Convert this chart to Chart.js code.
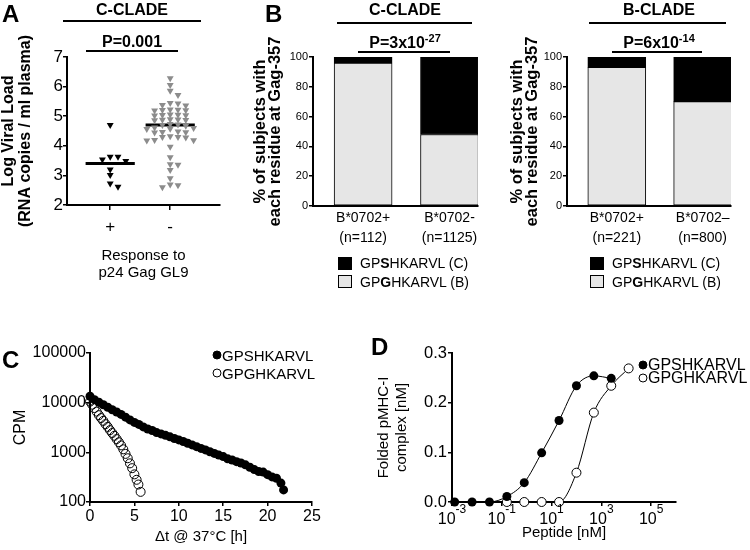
<!DOCTYPE html>
<html>
<head>
<meta charset="utf-8">
<title>Gag-357 GPSHKARVL / GPGHKARVL</title>
<script src="https://cdn.jsdelivr.net/npm/chart.js@4.4.1/dist/chart.umd.min.js"></script>
<style>
  body { margin: 0; background: #fff; font-family: "Liberation Sans", Arial, sans-serif; color: #000; }
  #fig { position: relative; width: 750px; height: 550px; overflow: hidden; }
  #fig canvas { position: absolute; }
  .letter { position: absolute; font-size: 24px; font-weight: bold; line-height: 24px; }
  .head { position: absolute; font-size: 16px; font-weight: bold; line-height: 16px; white-space: nowrap; transform: translate(-50%, -50%); }
  .head sup { font-size: 11px; line-height: 0; vertical-align: 6px; }
  .rule { position: absolute; height: 2px; background: #000; }
  .key { position: absolute; white-space: nowrap; line-height: 1; transform: translateY(-50%); }
  .swatch { position: absolute; width: 14px; height: 13px; border: 1px solid #000; box-sizing: border-box; }
  .dot { position: absolute; width: 9px; height: 9px; border-radius: 50%; border: 1px solid #000; box-sizing: border-box; transform: translate(-50%, -50%); }
</style>
</head>
<body>
<div id="fig">
  <canvas id="chartA" width="240" height="300" style="left:0;top:0"></canvas>
  <canvas id="chartBc" width="250" height="300" style="left:240px;top:0"></canvas>
  <canvas id="chartBb" width="250" height="300" style="left:490px;top:0"></canvas>
  <canvas id="chartC" width="370" height="240" style="left:0;top:310px"></canvas>
  <canvas id="chartD" width="380" height="240" style="left:370px;top:310px"></canvas>

  <!-- panel A headers -->
  <div class="letter" style="left:2px;top:2px">A</div>
  <div class="head" style="left:132px;top:10px">C-CLADE</div>
  <div class="rule" style="left:63px;top:20px;width:138px"></div>
  <div class="head" style="left:132px;top:42px">P=0.001</div>
  <div class="rule" style="left:86px;top:50px;width:92px"></div>

  <!-- panel B headers -->
  <div class="letter" style="left:265px;top:2px">B</div>
  <div class="head" style="left:405px;top:10px">C-CLADE</div>
  <div class="rule" style="left:337px;top:22px;width:135px"></div>
  <div class="head" style="left:405px;top:43px">P=3x10<sup>-27</sup></div>
  <div class="rule" style="left:358px;top:51px;width:92px"></div>
  <div class="head" style="left:659px;top:10px">B-CLADE</div>
  <div class="rule" style="left:589px;top:22px;width:137px"></div>
  <div class="head" style="left:659px;top:43px">P=6x10<sup>-14</sup></div>
  <div class="rule" style="left:612px;top:51px;width:90px"></div>

  <!-- panel B keys -->
  <div class="swatch" style="left:338px;top:257px;background:#000"></div>
  <div class="key" style="left:360px;top:263px;font-size:14px">GP<b>S</b>HKARVL (C)</div>
  <div class="swatch" style="left:338px;top:275px;background:#e6e6e6"></div>
  <div class="key" style="left:360px;top:282px;font-size:14px">GP<b>G</b>HKARVL (B)</div>
  <div class="swatch" style="left:590px;top:257px;background:#000"></div>
  <div class="key" style="left:612px;top:263px;font-size:14px">GP<b>S</b>HKARVL (C)</div>
  <div class="swatch" style="left:590px;top:275px;background:#e6e6e6"></div>
  <div class="key" style="left:612px;top:282px;font-size:14px">GP<b>G</b>HKARVL (B)</div>

  <!-- panel C / D -->
  <div class="letter" style="left:2px;top:348px">C</div>
  <div class="dot" style="left:217px;top:355px;background:#000"></div>
  <div class="key" style="left:222px;top:355px;font-size:15px">GPSHKARVL</div>
  <div class="dot" style="left:217px;top:373px;background:#fff"></div>
  <div class="key" style="left:222px;top:373px;font-size:15px">GPGHKARVL</div>

  <div class="letter" style="left:371px;top:335px">D</div>
  <div class="dot" style="left:643px;top:365px;background:#000"></div>
  <div class="key" style="left:648px;top:365px;font-size:16px">GPSHKARVL</div>
  <div class="dot" style="left:643px;top:378px;background:#fff"></div>
  <div class="key" style="left:648px;top:378px;font-size:16px">GPGHKARVL</div>
</div>

<script>
// ---- A: viral load by GL9 response ----
const responseCats = ['+', '-'];
const viralLoadPlus = [4.70, 3.63, 3.63, 3.54, 3.49, 3.20, 3.01, 2.73, 2.62];
const viralLoadMinus = [6.28, 6.05, 5.86, 5.72, 5.45, 5.43, 5.38, 5.36, 5.22, 5.20, 5.21, 5.19, 5.23,
  5.05, 5.03, 5.06, 5.04, 5.02, 4.90, 4.88, 4.87, 4.89, 4.86, 4.74, 4.72, 4.70, 4.68, 4.60, 4.58,
  4.62, 4.57, 4.47, 4.46, 4.48, 4.45, 4.30, 4.32, 4.28, 4.30, 4.19, 4.20, 4.18, 3.97, 3.61, 3.38,
  3.36, 3.18, 2.90, 2.69, 2.67, 2.60];
const viralLoadMean = [3.40, 4.70];
const viralLoadTicks = [2, 3, 4, 5, 6, 7];

// ---- B: residue at Gag-357 ----
const cCladeCats = [['B*0702+', '(n=112)'], ['B*0702-', '(n=1125)']];
const cCladeGly = [96, 48];   // GPGHKARVL (B)
const cCladeSer = [4, 52];    // GPSHKARVL (C)
const bCladeCats = [['B*0702+', '(n=221)'], ['B*0702\u2013', '(n=800)']];
const bCladeGly = [93, 70];
const bCladeSer = [7, 30];
const pctTicks = [0, 20, 40, 60, 80, 100];

// ---- C: dissociation at 37C ----
const timeSer = [0, 0.5, 1, 1.5, 2, 2.5, 3, 3.5, 4, 4.5, 5, 5.5, 6, 6.5, 7, 7.5, 8, 8.5, 9, 9.5, 10,
  10.5, 11, 11.5, 12, 12.5, 13, 13.5, 14, 14.5, 15, 15.5, 16, 16.5, 17, 17.5, 18, 18.5, 19, 19.5,
  20, 20.5, 21, 21.5, 21.8];
const cpmSer = [13500, 11500, 10200, 9100, 8100, 7200, 6500, 5800, 5100, 4500, 4000, 3650, 3250,
  2950, 2750, 2500, 2350, 2200, 2050, 1900, 1780, 1650, 1520, 1410, 1300, 1200, 1120, 1030, 950,
  880, 820, 740, 700, 650, 610, 560, 500, 450, 410, 400, 355, 320, 300, 240, 175];
const timeGly = [0, 0.25, 0.5, 0.75, 1, 1.25, 1.5, 1.75, 2, 2.25, 2.5, 2.75, 3, 3.25, 3.5, 3.75, 4,
  4.25, 4.5, 4.75, 5, 5.25, 5.45, 5.7];
const cpmGly = [10500, 9100, 7800, 6600, 5600, 4900, 4300, 3700, 3250, 2800, 2450, 2150, 1850, 1600,
  1380, 1150, 930, 760, 600, 480, 360, 280, 225, 160];
const cpmTicks = [100, 1000, 10000, 100000];
const hourTicks = [0, 5, 10, 15, 20, 25];

// ---- D: refolding titration ----
const peptideSer = [0.00128, 0.0064, 0.032, 0.16, 0.8, 4, 20, 100, 500, 2500];
const foldedSer = [0, 0, 0, 0.011, 0.039, 0.099, 0.164, 0.234, 0.254, 0.249];
const peptideGly = [0.16, 0.8, 4, 20, 100, 500, 2500, 12500];
const foldedGly = [0, 0, 0, 0, 0.059, 0.18, 0.234, 0.269];
const foldedTicks = [0, 0.1, 0.2, 0.3];
const peptideTickExp = [-3, -1, 1, 3, 5];

Chart.defaults.font.family = '"Liberation Sans", Arial, sans-serif';
Chart.defaults.color = '#000';

const inkGrid = { drawOnChartArea: false, drawTicks: true, tickLength: 4, color: '#000', lineWidth: 1.5 };
const inkBorder = { display: true, color: '#000', width: 2 };
const quiet = { legend: { display: false }, tooltip: { enabled: false } };

// spread points of one column sideways so they do not sit on top of each other
function swarm(values, center) {
  const stepX = 0.13, pxPerUnit = 29.6;
  const order = values.map((v, i) => i).sort((a, b) => values[b] - values[a]);
  const placed = [];
  const out = [];
  order.forEach(i => {
    const v = values[i];
    for (let k = 0; k < 30; k++) {
      const col = k === 0 ? 0 : (k % 2 ? 1 : -1) * Math.ceil(k / 2);
      const clash = placed.some(p => p.col === col && Math.abs(p.v - v) * pxPerUnit < 4.5);
      if (!clash) {
        placed.push({ col, v });
        out.push({ x: center + col * stepX, y: v });
        break;
      }
    }
  });
  return out;
}

new Chart(document.getElementById('chartA'), {
  type: 'scatter',
  data: {
    datasets: [
      { data: swarm(viralLoadPlus, 1), pointStyle: 'triangle', rotation: 180, pointRadius: 4,
        backgroundColor: '#000', borderWidth: 0, clip: false },
      { data: swarm(viralLoadMinus, 2), pointStyle: 'triangle', rotation: 180, pointRadius: 4,
        backgroundColor: '#8c8c8c', borderWidth: 0, clip: false },
      ...viralLoadMean.map((m, i) => ({
        type: 'line', data: [{ x: i + 1 - 0.41, y: m }, { x: i + 1 + 0.41, y: m }],
        borderColor: '#000', borderWidth: 3, pointRadius: 0, clip: false
      }))
    ]
  },
  options: {
    responsive: false, animation: false, events: [],
    layout: { padding: { top: 57, right: 20, left: 0, bottom: 0 }, autoPadding: false },
    plugins: quiet,
    scales: {
      x: {
        type: 'linear', min: 0.28, max: 2.83, offset: false,
        afterBuildTicks: s => { s.ticks = responseCats.map((c, i) => ({ value: i + 1 })); },
        afterFit: s => { s.height = 95; },
        ticks: { callback: v => responseCats[v - 1], font: { size: 17 }, padding: 7, maxRotation: 0 },
        grid: { ...inkGrid, tickLength: 5 }, border: inkBorder,
        title: { display: true, text: ['Response to', 'p24 Gag GL9'], font: { size: 15, lineHeight: 1.13 },
          padding: { top: 0, bottom: 19 } }
      },
      y: {
        min: 2, max: 7,
        afterBuildTicks: s => { s.ticks = viralLoadTicks.map(v => ({ value: v })); },
        afterFit: s => { s.width = 67; },
        ticks: { font: { size: 17 }, padding: 0 },
        grid: inkGrid, border: inkBorder,
        title: { display: true, text: ['Log Viral Load', '(RNA copies / ml plasma)'],
          font: { size: 16, weight: 'bold', lineHeight: 1.06 }, padding: { top: 0.5, bottom: 0 } }
      }
    }
  }
});

function cladeChart(id, cats, gly, ser, yWidth, titlePad, rightPad) {
  return new Chart(document.getElementById(id), {
    type: 'bar',
    data: {
      datasets: [
        { label: 'GPGHKARVL (B)', data: gly.map((v, i) => ({ x: i + 1, y: v })), backgroundColor: '#e6e6e6',
          borderColor: '#000', borderWidth: 1, borderSkipped: false, barThickness: 58 },
        { label: 'GPSHKARVL (C)', data: ser.map((v, i) => ({ x: i + 1, y: v })), backgroundColor: '#000',
          borderColor: '#000', borderWidth: 1, borderSkipped: false, barThickness: 58 }
      ]
    },
    options: {
      responsive: false, animation: false, events: [],
      layout: { padding: { top: 57, right: rightPad, left: 0, bottom: 0 }, autoPadding: false },
      plugins: quiet,
      scales: {
        x: {
          type: 'linear', min: 0.42, max: 2.33, stacked: true, offset: false,
          afterBuildTicks: s => { s.ticks = cats.map((c, i) => ({ value: i + 1 })); },
          afterFit: s => { s.height = 94; },
          ticks: { callback: v => cats[v - 1], font: { size: 14, lineHeight: 1.45 }, padding: 2, maxRotation: 0 },
          grid: { ...inkGrid, drawTicks: false, tickLength: 4 }, border: inkBorder
        },
        y: {
          stacked: true, min: 0, max: 100,
          afterBuildTicks: s => { s.ticks = pctTicks.map(v => ({ value: v })); },
          afterFit: s => { s.width = yWidth; },
          ticks: { font: { size: 11 }, padding: 1 },
          grid: inkGrid, border: inkBorder,
          title: { display: true, text: ['% of subjects with', 'each residue at Gag-357'],
            font: { size: 16.5, weight: 'bold', lineHeight: 0.9 }, padding: { top: titlePad, bottom: 0 } }
        }
      }
    }
  });
}

cladeChart('chartBc', cCladeCats, cCladeGly, cCladeSer, 73, 13.5, 12);
cladeChart('chartBb', bCladeCats, bCladeGly, bCladeSer, 77, 20.5, 9);

new Chart(document.getElementById('chartC'), {
  type: 'scatter',
  data: {
    datasets: [
      { label: 'GPSHKARVL', data: timeSer.map((t, i) => ({ x: t, y: cpmSer[i] })), pointRadius: 4.5,
        backgroundColor: '#000', borderColor: '#000', borderWidth: 0, clip: false },
      { label: 'GPGHKARVL', data: timeGly.map((t, i) => ({ x: t, y: cpmGly[i] })), pointRadius: 4.5,
        backgroundColor: 'rgba(255,255,255,0)', borderColor: '#000', borderWidth: 1, clip: false }
    ]
  },
  options: {
    responsive: false, animation: false, events: [],
    layout: { padding: { top: 43, right: 58, left: 0, bottom: 0 }, autoPadding: false },
    plugins: quiet,
    scales: {
      x: {
        type: 'linear', min: 0, max: 25,
        afterBuildTicks: s => { s.ticks = hourTicks.map(v => ({ value: v })); },
        afterFit: s => { s.height = 48; },
        ticks: { font: { size: 16 }, padding: 1, maxRotation: 0 },
        grid: inkGrid, border: inkBorder,
        title: { display: true, text: '\u0394t @ 37\u00b0C [h]', font: { size: 15 }, padding: { top: 0, bottom: 4 } }
      },
      y: {
        type: 'logarithmic', min: 100, max: 100000,
        afterBuildTicks: s => { s.ticks = cpmTicks.map(v => ({ value: v })); },
        afterFit: s => { s.width = 90; },
        ticks: { callback: v => String(v), font: { size: 16 }, padding: 0 },
        grid: inkGrid, border: inkBorder,
        title: { display: true, text: 'CPM', font: { size: 16 }, padding: { top: 11, bottom: 0 } }
      }
    }
  }
});

// x tick labels of panel D as 10 with a raised exponent
const powerLabels = {
  id: 'powerLabels',
  afterDraw(chart) {
    const s = chart.scales.x, ctx = chart.ctx;
    const fam = Chart.defaults.font.family;
    ctx.save();
    ctx.fillStyle = '#000';
    ctx.textBaseline = 'alphabetic';
    ctx.textAlign = 'left';
    s.ticks.forEach(t => {
      const e = String(Math.round(Math.log10(t.value)));
      ctx.font = '16px ' + fam;
      const wb = ctx.measureText('10').width;
      ctx.font = '12px ' + fam;
      const we = ctx.measureText(e).width;
      const x0 = s.getPixelForValue(t.value) - (wb + we) / 2;
      ctx.font = '16px ' + fam;
      ctx.fillText('10', x0, s.top + 21.5);
      ctx.font = '12px ' + fam;
      ctx.fillText(e, x0 + wb, s.top + 10.5);
    });
    ctx.restore();
  }
};

new Chart(document.getElementById('chartD'), {
  type: 'scatter',
  data: {
    datasets: [
      { label: 'GPSHKARVL', data: peptideSer.map((p, i) => ({ x: p, y: foldedSer[i] })), showLine: true,
        cubicInterpolationMode: 'monotone', borderColor: '#000', borderWidth: 1, pointRadius: 4.5,
        pointBackgroundColor: '#000', pointBorderColor: '#000', pointBorderWidth: 0, clip: false },
      { label: 'GPGHKARVL', data: peptideGly.map((p, i) => ({ x: p, y: foldedGly[i] })), showLine: true,
        cubicInterpolationMode: 'monotone', borderColor: '#000', borderWidth: 1, pointRadius: 4.5,
        pointBackgroundColor: '#fff', pointBorderColor: '#000', pointBorderWidth: 1, clip: false }
    ]
  },
  options: {
    responsive: false, animation: false, events: [],
    layout: { padding: { top: 43, right: 74, left: 0, bottom: 0 }, autoPadding: false },
    plugins: quiet,
    scales: {
      x: {
        type: 'logarithmic', min: 1e-3, max: 1e6,
        afterBuildTicks: s => { s.ticks = peptideTickExp.map(e => ({ value: Math.pow(10, e) })); },
        afterFit: s => { s.height = 48; },
        ticks: { callback: () => '', padding: 0 },
        grid: inkGrid, border: inkBorder,
        title: { display: true, text: 'Peptide [nM]', font: { size: 15 }, padding: { top: 0, bottom: 8 } }
      },
      y: {
        min: 0, max: 0.3,
        afterBuildTicks: s => { s.ticks = foldedTicks.map(v => ({ value: v })); },
        afterFit: s => { s.width = 82; },
        ticks: { callback: v => v.toFixed(1), font: { size: 16.5 }, padding: 1 },
        grid: inkGrid, border: inkBorder,
        title: { display: true, text: ['Folded pMHC-I', 'complex [nM]'], font: { size: 15, lineHeight: 1.15 },
          padding: { top: 5.5, bottom: 0 } }
      }
    }
  },
  plugins: [powerLabels]
});
</script>
</body>
</html>
